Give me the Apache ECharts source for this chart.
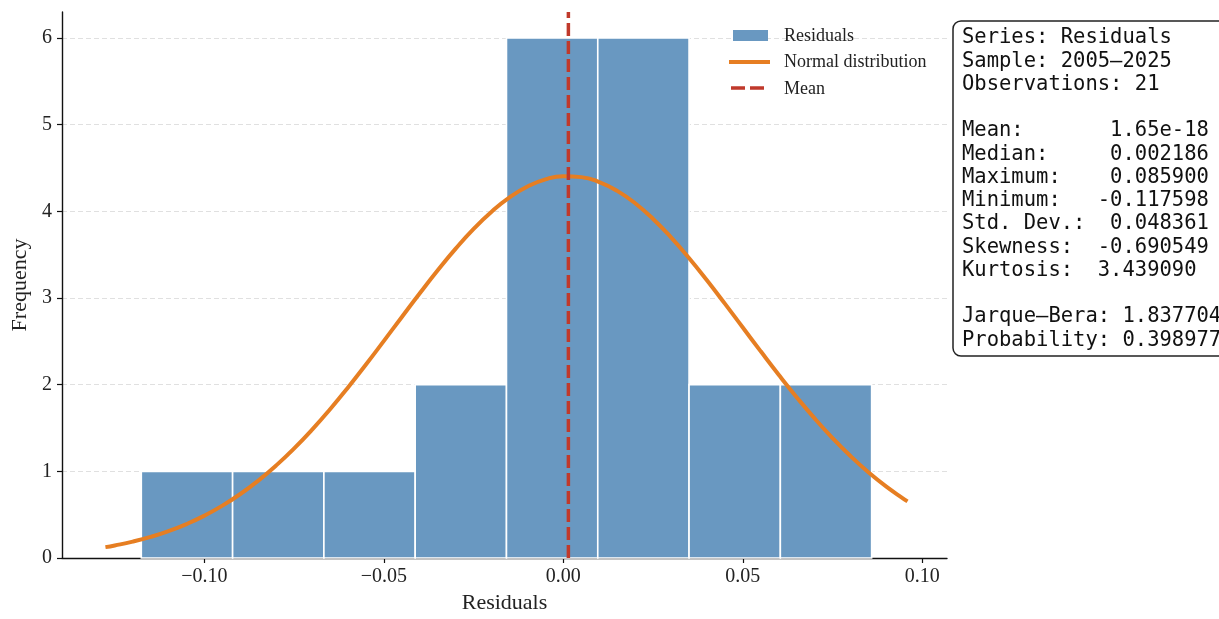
<!DOCTYPE html>
<html>
<head>
<meta charset="utf-8">
<script src="https://cdn.jsdelivr.net/npm/echarts@6/dist/echarts.min.js"></script>
<style>
html,body{margin:0;padding:0;background:#fff;}
#chart{width:1219px;height:619px;}
</style>
</head>
<body>
<div id="chart"></div>
<script>
// ---------- data ----------
const binEdges = [-0.117598, -0.092161, -0.066724, -0.041286, -0.015849, 0.009588, 0.035026, 0.060463, 0.085900];
const counts = [1, 1, 1, 2, 6, 6, 2, 2];

const curveX = [-0.1276, -0.125, -0.120, -0.115, -0.110, -0.105, -0.100, -0.095, -0.090, -0.085,
  -0.080, -0.075, -0.070, -0.065, -0.060, -0.055, -0.050, -0.045, -0.040, -0.035,
  -0.030, -0.025, -0.020, -0.015, -0.010, -0.005, 0.000, 0.005, 0.010, 0.015,
  0.020, 0.025, 0.030, 0.035, 0.040, 0.045, 0.050, 0.055, 0.060, 0.065,
  0.070, 0.075, 0.080, 0.085, 0.090, 0.095, 0.0959];
const curveY = [0.1256, 0.1449, 0.1887, 0.2434, 0.3105, 0.3918, 0.4892, 0.6042, 0.7386, 0.8933,
  1.0687, 1.2652, 1.4816, 1.7170, 1.9682, 2.2326, 2.5054, 2.7813, 3.0549, 3.3198,
  3.5692, 3.7971, 3.9958, 4.1607, 4.2862, 4.3687, 4.4051, 4.3948, 4.3378, 4.2360,
  4.0928, 3.9121, 3.6997, 3.4621, 3.2048, 2.9351, 2.6596, 2.3846, 2.1149, 1.8558,
  1.6112, 1.3842, 1.1762, 0.9889, 0.8228, 0.6774, 0.6531];

const meanValue = 0.0014;
const xTicks = [-0.10, -0.05, 0.00, 0.05, 0.10];
const yTicks = [0, 1, 2, 3, 4, 5, 6];
const legendLabels = ['Residuals', 'Normal distribution', 'Mean'];
const statsLines = [
  'Series: Residuals',
  'Sample: 2005\u20132025',
  'Observations: 21',
  '',
  'Mean:       1.65e-18',
  'Median:     0.002186',
  'Maximum:    0.085900',
  'Minimum:   -0.117598',
  'Std. Dev.:  0.048361',
  'Skewness:  -0.690549',
  'Kurtosis:  3.439090',
  '',
  'Jarque\u2013Bera: 1.837704',
  'Probability: 0.398977'
];

// ---------- build ----------
const histData = counts.map((c, i) => [binEdges[i], binEdges[i + 1], c]);
const curveData = curveX.map((x, i) => [x, curveY[i]]);
const meanData = [[meanValue, 0], [meanValue, 6.3]];

const serif = '"Liberation Serif", "Times New Roman", serif';
const mono = '"DejaVu Sans Mono", monospace';
const fmt = v => v.toFixed(2).replace('-', '\u2212');

const chart = echarts.init(document.getElementById('chart'), null, {renderer: 'canvas'});
chart.setOption({
  animation: false,
  backgroundColor: '#ffffff',
  grid: {left: 62, right: 272, top: 12, bottom: 59, containLabel: false},
  xAxis: {
    type: 'value',
    min: -0.1397, max: 0.1069,
    name: 'Residuals', nameLocation: 'middle', nameGap: 34,
    nameTextStyle: {fontFamily: serif, fontSize: 22, color: '#222'},
    axisLine: {show: true, onZero: false, lineStyle: {color: '#111', width: 1.4}},
    axisTick: {show: true, length: 5, customValues: xTicks, lineStyle: {color: '#111', width: 1.2}},
    axisLabel: {customValues: xTicks, formatter: fmt, fontFamily: serif, fontSize: 20, color: '#222', margin: 9},
    splitLine: {show: false}
  },
  yAxis: {
    type: 'value',
    min: 0, max: 6.3,
    name: 'Frequency', nameLocation: 'middle', nameGap: 30,
    nameTextStyle: {fontFamily: serif, fontSize: 22, color: '#222'},
    axisLine: {show: true, onZero: false, lineStyle: {color: '#111', width: 1.4}},
    axisTick: {show: true, length: 5, customValues: yTicks, lineStyle: {color: '#111', width: 1.2}},
    axisLabel: {customValues: yTicks, fontFamily: serif, fontSize: 20, color: '#222', margin: 10},
    splitLine: {show: true, lineStyle: {color: '#dcdcdc', type: [5, 3], width: 0.9}}
  },
  series: [
    {
      type: 'custom',
      name: 'Residuals',
      data: histData,
      encode: {x: [0, 1], y: 2},
      z: 2,
      renderItem: function (params, api) {
        const p0 = api.coord([api.value(0), api.value(2)]);
        const p1 = api.coord([api.value(1), 0]);
        return {
          type: 'rect',
          shape: {x: p0[0], y: p0[1], width: p1[0] - p0[0], height: p1[1] - p0[1]},
          style: {fill: '#6998c1', stroke: '#ffffff', lineWidth: 1.6}
        };
      }
    },
    {
      type: 'line',
      name: 'Normal distribution',
      data: curveData,
      smooth: true,
      showSymbol: false,
      z: 3,
      lineStyle: {color: '#e67e22', width: 4},
      itemStyle: {color: '#e67e22'}
    },
    {
      type: 'line',
      name: 'Mean',
      data: meanData,
      showSymbol: false,
      z: 4,
      lineStyle: {color: '#c0392b', width: 3.5, type: [13, 5]},
      itemStyle: {color: '#c0392b'}
    }
  ],
  graphic: [
    // legend
    {type: 'rect', shape: {x: 733, y: 30, width: 35, height: 11}, style: {fill: '#6998c1'}, z: 10},
    {type: 'text', x: 784, y: 36, style: {text: legendLabels[0], font: '18px ' + serif, fill: '#222', verticalAlign: 'middle'}, z: 10},
    {type: 'line', shape: {x1: 729, y1: 62, x2: 770, y2: 62}, style: {stroke: '#e67e22', lineWidth: 4}, z: 10},
    {type: 'text', x: 784, y: 62, style: {text: legendLabels[1], font: '18px ' + serif, fill: '#222', verticalAlign: 'middle'}, z: 10},
    {type: 'line', shape: {x1: 731, y1: 88, x2: 765, y2: 88}, style: {stroke: '#c0392b', lineWidth: 3.5, lineDash: [14, 5]}, z: 10},
    {type: 'text', x: 784, y: 89, style: {text: legendLabels[2], font: '18px ' + serif, fill: '#222', verticalAlign: 'middle'}, z: 10},
    // stats box
    {type: 'rect', shape: {x: 953, y: 21, width: 320, height: 335, r: 8}, style: {fill: '#ffffff', stroke: '#222', lineWidth: 1.5}, z: 10},
    {type: 'text', x: 962, y: 26.5, style: {text: statsLines.join('\n'), fontFamily: mono, fontSize: 20.5, lineHeight: 23.25, fill: '#111', verticalAlign: 'top'}, z: 11}
  ]
});
</script>
</body>
</html>
